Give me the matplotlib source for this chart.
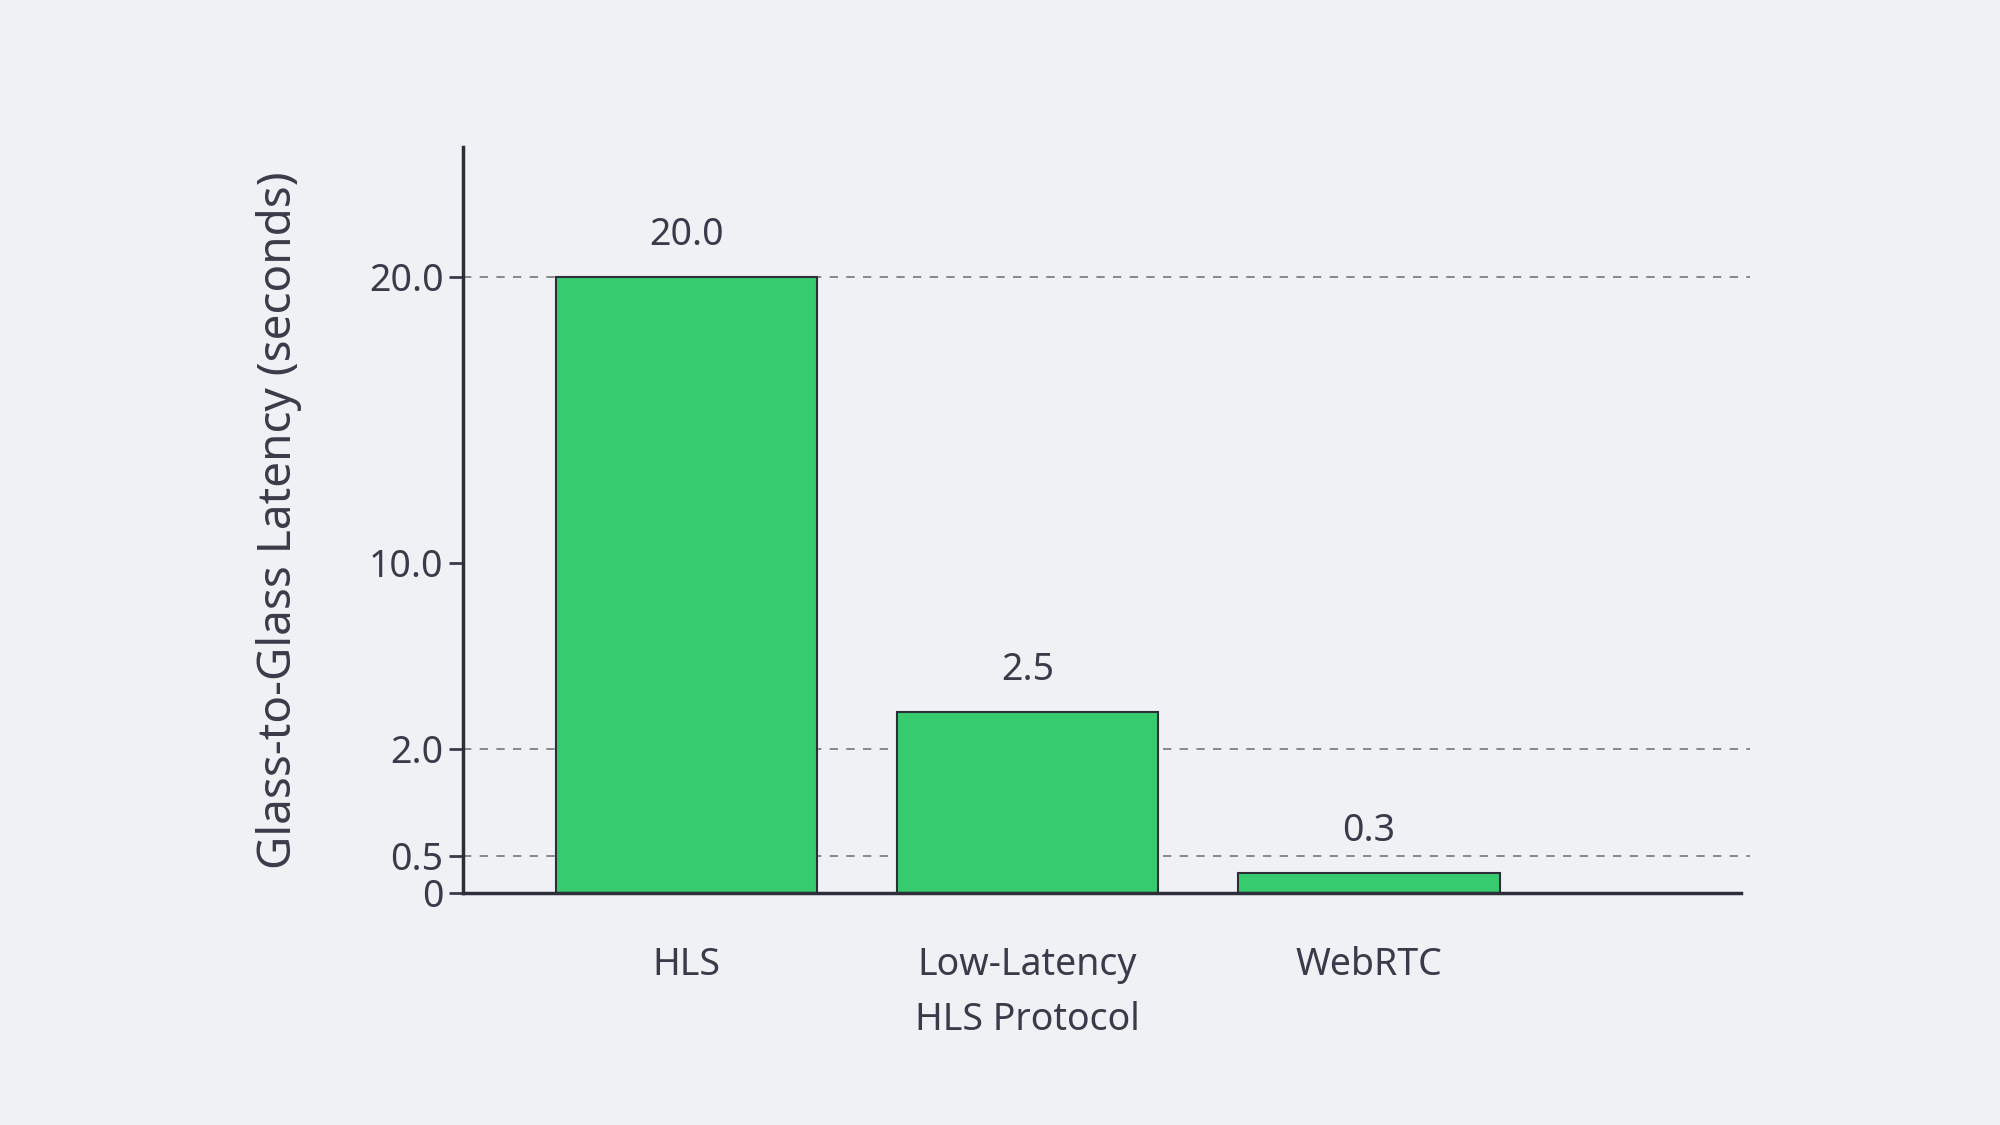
import numpy as np
import matplotlib
matplotlib.use("Agg")
import matplotlib.pyplot as plt

categories = ["HLS", "Low-Latency\nHLS Protocol", "WebRTC"]
values = [20.0, 2.5, 0.3]
labels = ["20.0", "2.5", "0.3"]
ticks = [0, 0.5, 2.0, 10.0, 20.0]
tick_labels = ["0", "0.5", "2.0", "10.0", "20.0"]
grid_vals = [0.5, 2.0, 20.0]

# piecewise display scale (reference axis is non-linear)
kv = np.array([0, 0.3, 0.5, 2.0, 2.5, 10.0, 20.0, 30.0])
kp = np.array([0, 16, 29, 113, 142, 259, 483, 707.0])
fwd = lambda v: np.interp(v, kv, kp)
inv = lambda p: np.interp(p, kp, kv)

bg = "#F0F1F5"
tc = "#3a3b4a"
plt.rcParams['font.family'] = ['Noto Sans', 'DejaVu Sans']

fig = plt.figure(figsize=(20, 11.25), dpi=100, facecolor=bg)
ax = fig.add_axes([0.2315, 0.2063, 0.639, 0.6633])
ax.set_facecolor(bg)
ax.set_yscale('function', functions=(fwd, inv))
ax.set_ylim(0, inv(585))
ax.set_xlim(-0.654, 3.09)

x = np.arange(len(categories))
for g in grid_vals:
    ax.axhline(g, xmin=0, xmax=1.007, color="#777777", lw=1.2, ls=(0, (5, 5)), zorder=0, clip_on=False)
ax.bar(x, values, width=0.766, color="#37CB6F", edgecolor="#2d2e3a", lw=1.5, zorder=2)
for xi, v, l in zip(x, values, labels):
    ax.text(xi, inv(fwd(v) + 18), l, ha='center', va='bottom', fontsize=27, color=tc)

ax.set_yticks(ticks)
ax.set_yticklabels(tick_labels)
ax.set_xticks(x)
ax.set_xticklabels(categories, linespacing=1.6, va='top')
ax.tick_params(axis='y', labelsize=27, colors=tc, length=10, width=2, pad=4)
ax.tick_params(axis='x', labelsize=27, colors=tc, length=0, pad=38)
for s in ['top', 'right']:
    ax.spines[s].set_visible(False)
for s in ['left', 'bottom']:
    ax.spines[s].set_color("#2d2e3a")
    ax.spines[s].set_linewidth(2.5)
ax.set_ylabel("Glass-to-Glass Latency (seconds)", fontsize=33, color=tc, labelpad=48)
fig.savefig("out.png", dpi=100, facecolor=bg)
